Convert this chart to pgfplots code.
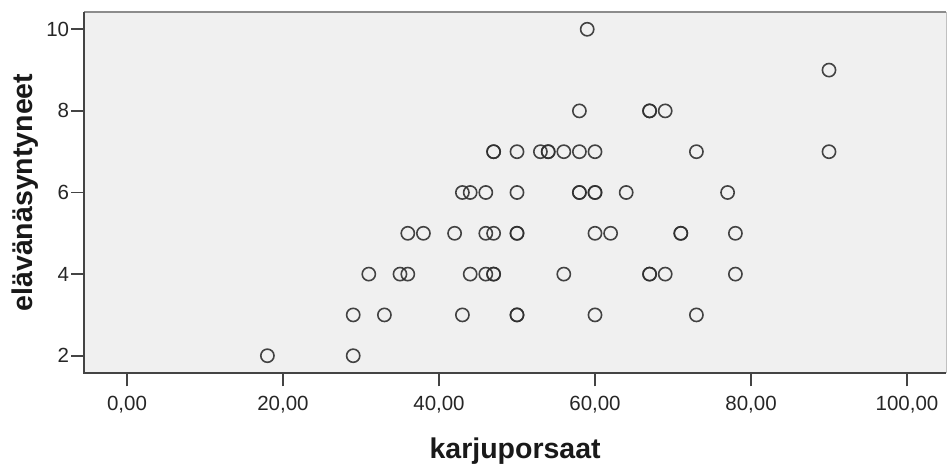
\documentclass[border=0pt]{standalone}
\usepackage{fontspec}
\setmainfont{Liberation Sans}
\usepackage{pgfplots}
\pgfplotsset{compat=1.18}
\definecolor{bgc}{HTML}{F0F0F0}
\definecolor{mk}{HTML}{303030}
\definecolor{axc}{HTML}{444444}
\definecolor{topc}{HTML}{8C8C8C}
\begin{document}
\begin{tikzpicture}[x=1pt,y=1pt]
\useasboundingbox (-84.3,-94.7) rectangle (862.7,373.3);
\begin{axis}[
  at={(0,0)}, anchor=south west,
  scale only axis, width=861.7pt, height=361.6pt,
  xmin=-5.474, xmax=105.0, ymin=1.569, ymax=10.431,
  axis background/.style={fill=bgc},
  axis line style={draw=none},
  xtick={0,20,40,60,80,100},
  xticklabels={{0,00},{20,00},{40,00},{60,00},{80,00},{100,00}},
  ytick={2,4,6,8,10},
  xtick pos=lower, ytick pos=left,
  tick align=outside,
  major tick length=13pt,
  tick style={axc, line width=1.6pt},
  /pgf/number format/assume math mode=true,
  ticklabel style={font=\fontsize{20.5}{24}\selectfont, text=black!85, inner sep=0pt},
  xticklabel style={anchor=base, yshift=-24.5pt},
  yticklabel style={anchor=east, xshift=-2pt},
  xlabel={karjuporsaat},
  ylabel={elävänäsyntyneet},
  label style={font=\fontsize{28.5}{32}\selectfont\bfseries, text=black!90, inner sep=0pt},
  xlabel style={at={(axis description cs:0.5,0)}, anchor=base, yshift=-84.7pt},
  ylabel style={at={(axis description cs:0,0.5)}, anchor=base, yshift=51.3pt},
  clip=false,
]
\addplot[only marks, mark=o, mark size=6.6pt, mark options={draw=mk, line width=1.6pt, draw opacity=0.9}]
coordinates {
(59,10)
(90,9)
(58,8) (67,8) (67,8) (69,8)
(47,7) (47,7) (50,7) (53,7) (54,7) (54,7) (56,7) (58,7) (60,7) (73,7) (90,7)
(43,6) (44,6) (46,6) (50,6) (58,6) (58,6) (60,6) (60,6) (64,6) (77,6)
(36,5) (38,5) (42,5) (46,5) (47,5) (50,5) (50,5) (60,5) (62,5) (71,5) (71,5) (78,5)
(31,4) (35,4) (36,4) (44,4) (46,4) (47,4) (47,4) (56,4) (67,4) (67,4) (69,4) (78,4)
(29,3) (33,3) (43,3) (50,3) (50,3) (60,3) (73,3)
(18,2) (29,2)
};
\draw[topc, line width=2pt] (axis description cs:0,1) -- (axis description cs:1,1);
\draw[bgc!80!black, line width=0.8pt] (axis description cs:1,0) -- (axis description cs:1,1);
\draw[axc, line width=2.2pt] (axis description cs:0,1) -- (axis description cs:0,0) -- (axis description cs:1,0);
\end{axis}
\end{tikzpicture}
\end{document}
